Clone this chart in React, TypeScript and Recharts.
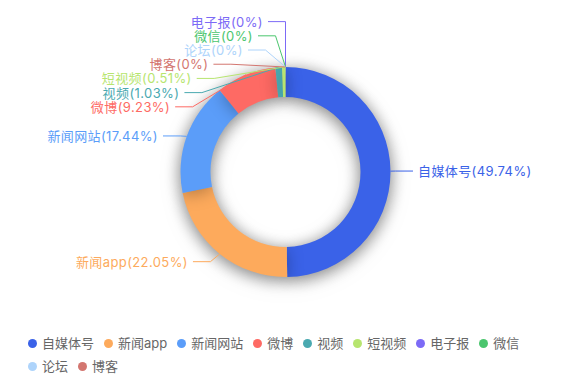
import React from 'react';
import { PieChart, Pie, Cell, Legend } from 'recharts';

const names = ['自媒体号', '新闻app', '新闻网站', '微博', '视频', '短视频', '电子报', '微信', '论坛', '博客'];
const shares = [49.74, 22.05, 17.44, 9.23, 1.03, 0.51, 0, 0, 0, 0];
const colors = ['#3a62e8', '#fdaa5c', '#5b9df9', '#fe6a64', '#4aa9b0', '#b7e56f', '#7c6af6', '#4bc66e', '#aed4fb', '#d37670'];

const data = names.map((name, i) => ({ name, value: shares[i], fill: colors[i] }));

const W = 571;
const H = 382;
const CX = 285.5;
const CY = 172;
const R_OUT = 105;
const R_IN = 75;
const LEN1 = 10;
const LEN2 = 17.5;
const GAP = 5;
const LINE_H = 14.2;
const RAD = Math.PI / 180;

type Lab = { i: number; side: number; x: number; y: number; x0: number; height: number };

// label placement in the spirit of the echarts 4 pie: stack overlapping labels, then pull x onto a curve
function layoutLabels() {
    const total = shares.reduce((a, b) => a + b, 0);
    let acc = 0;
    const all: Lab[] = shares.map((v, i) => {
        const a0 = 90 - (acc / total) * 360;
        acc += v;
        const a1 = 90 - (acc / total) * 360;
        const mid = ((a0 + a1) / 2) * RAD;
        const dx = Math.cos(mid);
        const dy = -Math.sin(mid);
        const side = dx < 0 ? -1 : 1;
        const x2 = CX + (R_OUT + LEN1) * dx;
        const y2 = CY + (R_OUT + LEN1) * dy;
        return { i, side, x: x2 + side * (LEN2 + GAP), y: y2, x0: x2 + side * (LEN2 + GAP), height: LINE_H };
    });

    const adjust = (list: Lab[]) => {
        list.sort((a, b) => a.y - b.y);
        const len = list.length;
        const shiftUp = (end: number, delta: number) => {
            for (let j = end; j >= 0; j--) {
                if (list[j].y - delta < 0) break;
                list[j].y -= delta;
                if (j > 0 && list[j].y > list[j - 1].y + list[j - 1].height) break;
            }
        };
        const shiftDown = (start: number, end: number, delta: number) => {
            for (let j = start; j < end; j++) {
                if (list[j].y + delta > H) break;
                list[j].y += delta;
                if (j > start && j + 1 < end && list[j + 1].y > list[j].y + list[j].height) {
                    shiftUp(j, delta / 2);
                    return;
                }
            }
            shiftUp(end - 1, delta / 2);
        };
        let lastY = 0;
        for (let i = 0; i < len; i++) {
            const delta = list[i].y - lastY;
            if (delta < 0) shiftDown(i, len, -delta);
            lastY = list[i].y + list[i].height;
        }
        const changeX = (items: Lab[], isDown: boolean) => {
            let last = isDown ? Number.MAX_VALUE : 0;
            const R = R_OUT + LEN1 + LEN2;
            items.forEach((l) => {
                const dy = Math.abs(l.y - CY);
                let dx = dy < R_OUT + LEN1 ? Math.sqrt(R * R - dy * dy) : Math.abs(l.x0 - CX);
                if (isDown && dx >= last) dx = last - 10;
                if (!isDown && dx <= last) dx = last + 10;
                l.x = CX + dx * l.side;
                last = dx;
            });
        };
        changeX(list.filter((l) => l.y < CY), false);
        changeX(list.filter((l) => l.y >= CY), true);
    };

    adjust(all.filter((l) => l.side < 0));
    adjust(all.filter((l) => l.side > 0));
    const byIndex: Record<number, Lab> = {};
    all.forEach((l) => { byIndex[l.i] = l; });
    return byIndex;
}

const labels = layoutLabels();

function renderLabel(props: any) {
    const idx = typeof props.index === 'number' ? props.index : names.indexOf(props.name);
    const l = labels[idx];
    if (!l) return null;
    const mid = -props.midAngle * RAD;
    const x0 = props.cx + props.outerRadius * Math.cos(mid);
    const y0 = props.cy + props.outerRadius * Math.sin(mid);
    const x2 = l.x - l.side * GAP;
    const x1 = x2 - l.side * LEN2;
    const color = colors[idx];
    return (
        <g key={`lab-${idx}`}>
            <polyline
                points={`${x0},${y0} ${x1},${l.y} ${x2},${l.y}`}
                fill="none"
                stroke={color}
                strokeWidth={1}
            />
            <text
                x={l.x}
                y={l.y}
                textAnchor={l.side < 0 ? 'end' : 'start'}
                dominantBaseline="central"
                fill={color}
                fontSize={13}
                letterSpacing={0.4}
            >
                {`${names[idx]}(${shares[idx]}%)`}
            </text>
        </g>
    );
}

function renderLegend() {
    return (
        <div style={{ display: 'flex', flexWrap: 'wrap', width: 520 }}>
            {names.map((name, i) => (
                <div key={name} style={{ display: 'flex', alignItems: 'center', height: 23, marginRight: 10 }}>
                    <span style={{ width: 9, height: 9, borderRadius: '50%', background: colors[i], marginRight: 5 }} />
                    <span style={{ fontSize: 13, color: '#666', lineHeight: '23px' }}>{name}</span>
                </div>
            ))}
        </div>
    );
}

export default function App() {
    return (
        <div style={{ width: W, height: H, background: '#fff', fontFamily: 'Inter, "Noto Sans CJK SC", sans-serif' }}>
            <style>{`body { margin: 0; } .ring { filter: drop-shadow(0 3px 8px rgba(0,0,0,0.28)); }`}</style>
            <PieChart width={W} height={H} margin={{ top: 0, right: 0, bottom: 0, left: 0 }}>
                <Pie
                    data={data}
                    dataKey="value"
                    nameKey="name"
                    cx={CX}
                    cy={CY}
                    innerRadius={R_IN}
                    outerRadius={R_OUT}
                    startAngle={90}
                    endAngle={-270}
                    stroke="none"
                    className="ring"
                    isAnimationActive={false}
                >
                    {data.map((d) => (
                        <Cell key={d.name} fill={d.fill} />
                    ))}
                </Pie>
                <Pie
                    data={data}
                    dataKey="value"
                    nameKey="name"
                    cx={CX}
                    cy={CY}
                    innerRadius={R_IN}
                    outerRadius={R_OUT}
                    startAngle={90}
                    endAngle={-270}
                    stroke="none"
                    legendType="none"
                    labelLine={false}
                    label={renderLabel}
                    isAnimationActive={false}
                >
                    {data.map((d) => (
                        <Cell key={d.name} fill="none" />
                    ))}
                </Pie>
                <Legend
                    verticalAlign="bottom"
                    align="left"
                    content={renderLegend}
                    wrapperStyle={{ left: 28, top: 332, bottom: 'auto', width: 520 }}
                />
            </PieChart>
        </div>
    );
}
